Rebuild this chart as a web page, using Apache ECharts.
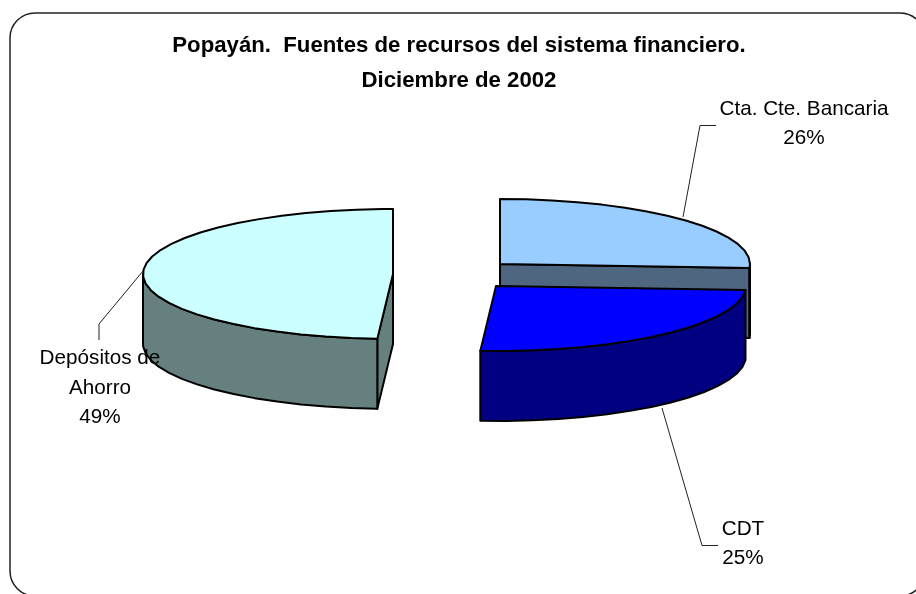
<!DOCTYPE html>
<html>
<head>
<meta charset="utf-8">
<title>Popayán</title>
<style>
  html, body { margin: 0; padding: 0; background: #fff; }
  #main { width: 916px; height: 594px; }
</style>
<script src="https://cdn.jsdelivr.net/npm/echarts@6/dist/echarts.min.js"></script>
</head>
<body>
<div id="main"></div>
<script>
  // datos, en orden desde las 12 en sentido horario
  var categories = ['Cta. Cte. Bancaria', 'CDT', 'Depósitos de\nAhorro'];
  var values = [26, 25, 49];

  // estilo y posicion de cada porcion
  var centers = [[500, 264], [496, 286], [393, 274]];
  var topColors = ['#99CCFF', '#0000FF', '#CCFFFF'];
  var sideColors = ['#4F6680', '#000080', '#668080'];
  var leaders = [
    [[683, 217], [700, 125.5], [716, 125.5]],
    [[662, 408], [702, 545.5], [718, 545.5]],
    [[143, 271], [99, 324], [99, 340]]
  ];
  var labelPos = [[804, 124], [743, 544], [100, 388]];

  var RX = 250, RY = 65, DEPTH = 70, STEP = 6;
  var total = values.reduce(function (a, b) { return a + b; }, 0);

  function toAngle(v) {
    return echarts.number.linearMap(v, [0, total], [0, 360]);
  }
  function point(c, deg, dy) {
    var r = deg * Math.PI / 180;
    return [c[0] + RX * Math.sin(r), c[1] - RY * Math.cos(r) + (dy || 0)];
  }
  function arc(c, a0, a1, dy) {
    var pts = [];
    for (var a = a0; a < a1; a += STEP) pts.push(point(c, a, dy));
    pts.push(point(c, a1, dy));
    return pts;
  }
  function poly(points, fill) {
    return {
      type: 'polygon',
      shape: { points: points },
      style: { fill: fill, stroke: '#000', lineWidth: 2, lineJoin: 'round' }
    };
  }
  function cutFace(c, deg, fill) {
    var p = point(c, deg);
    return poly([c, p, [p[0], p[1] + DEPTH], [c[0], c[1] + DEPTH]], fill);
  }

  function renderSlice(params, api) {
    var i = params.dataIndex;
    var before = values.slice(0, i).reduce(function (a, b) { return a + b; }, 0);
    var a0 = toAngle(before), a1 = toAngle(before + api.value(0));
    var c = centers[i];
    var children = [];

    // cara de corte visible segun el angulo
    if (a1 > 0 && a1 < 180) children.push(cutFace(c, a1, sideColors[i]));
    if (a0 > 180 && a0 < 360) children.push(cutFace(c, a0, sideColors[i]));

    // borde exterior, solo la mitad frontal
    var f0 = Math.max(a0, 90), f1 = Math.min(a1, 270);
    if (f1 > f0) {
      children.push(poly(arc(c, f0, f1, 0).concat(arc(c, f0, f1, DEPTH).reverse()), sideColors[i]));
    }

    // cara superior
    children.push(poly([c].concat(arc(c, a0, a1, 0)), topColors[i]));

    // linea guia
    children.push({
      type: 'polyline',
      shape: { points: leaders[i] },
      style: { fill: null, stroke: '#222', lineWidth: 1 }
    });

    // etiqueta
    children.push({
      type: 'text',
      x: labelPos[i][0],
      y: labelPos[i][1],
      style: {
        text: categories[i] + '\n' + api.value(0) + '%',
        fill: '#000',
        font: '20.7px "Liberation Sans", Arial, sans-serif',
        lineHeight: 29.5,
        align: 'center',
        verticalAlign: 'middle'
      }
    });
    return { type: 'group', children: children };
  }

  var chart = echarts.init(document.getElementById('main'), null, { renderer: 'canvas' });
  chart.setOption({
    animation: false,
    backgroundColor: '#fff',
    title: {
      text: 'Popayán.  Fuentes de recursos del sistema financiero.\nDiciembre de 2002',
      left: 454,
      top: 23,
      textAlign: 'center',
      textStyle: {
        fontFamily: '"Liberation Sans", Arial, sans-serif',
        fontSize: 22.2,
        fontWeight: 'bold',
        color: '#000',
        lineHeight: 35
      }
    },
    graphic: [{
      type: 'rect',
      z: -1,
      shape: { x: 10, y: 13, width: 915, height: 583, r: 25 },
      style: { fill: '#fff', stroke: '#222', lineWidth: 1.5 }
    }],
    series: [{
      type: 'custom',
      coordinateSystem: 'none',
      renderItem: renderSlice,
      data: values.map(function (v, i) { return { name: categories[i], value: [v] }; })
    }]
  });
</script>
</body>
</html>
